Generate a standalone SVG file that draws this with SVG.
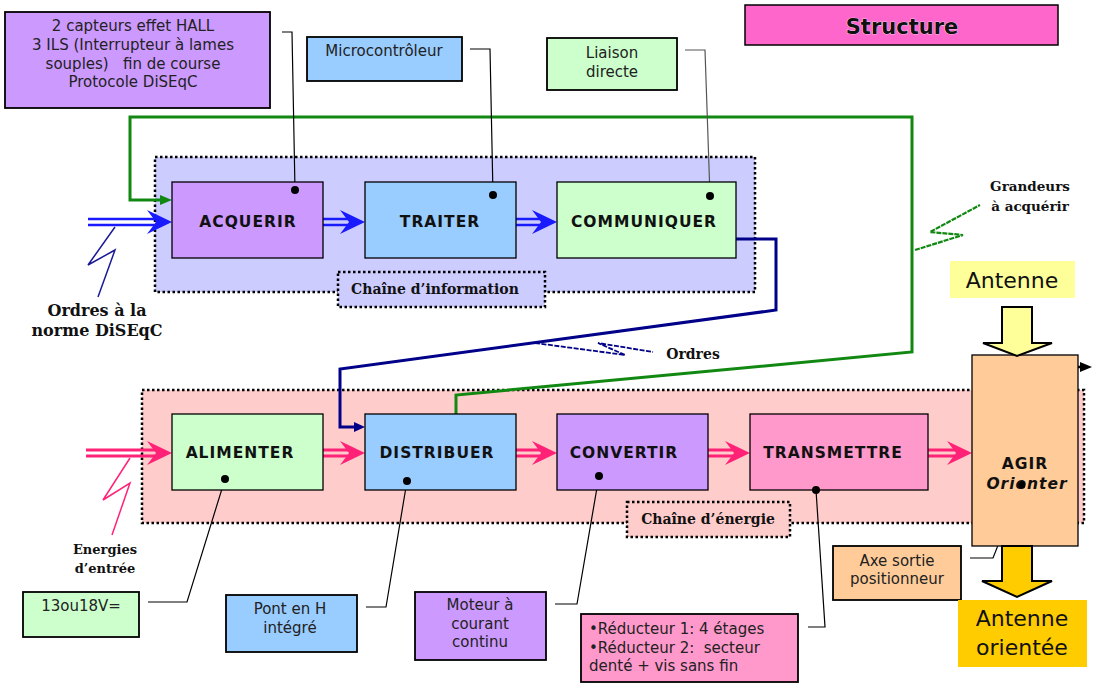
<svg xmlns="http://www.w3.org/2000/svg" width="1096" height="683" viewBox="0 0 1096 683">
<style>
.note{stroke:#000;stroke-width:1.8}
.nt{font-family:"DejaVu Sans","Liberation Sans",Arial,sans-serif;font-size:15px;fill:#222;text-anchor:middle;white-space:pre}
.ntl{font-family:"DejaVu Sans","Liberation Sans",Arial,sans-serif;font-size:15px;fill:#222;text-anchor:start;white-space:pre}
.fn{stroke:#000;stroke-width:1.3}
.ft{font-family:"Comic Sans MS","DejaVu Sans",sans-serif;font-weight:bold;font-size:15.5px;fill:#111;text-anchor:middle;letter-spacing:1px}
.chain{stroke:#000;stroke-width:2.5;stroke-dasharray:2.5 2.5}
.lbl{font-family:"DejaVu Serif","Liberation Serif",serif;font-weight:bold;fill:#111;text-anchor:middle}
.lead{fill:none;stroke:#000;stroke-width:1.2}
.bl{stroke:#1a1aff;stroke-width:2.5;fill:none}
.pk{stroke:#ff2277;stroke-width:3;fill:none}
.big{font-family:"DejaVu Sans","Liberation Sans",Arial,sans-serif;font-size:22px;fill:#111;text-anchor:middle}
</style>
<defs>
<path id="head" d="M0,0 L-25,-12 L-16,0 L-25,12 Z"/>
</defs>
<rect width="1096" height="683" fill="#fff"/>

<g id="chaine-information">
<rect x="155" y="157" width="600" height="135" fill="#ccccff" class="chain"/>
<rect x="338" y="272" width="207" height="35" fill="#ccccff" class="chain"/>
<text x="435" y="294" class="lbl" font-size="14">Chaîne d’information</text>
</g>
<g id="chaine-energie">
<rect x="142" y="390" width="942" height="133" fill="#ffcccc" class="chain"/>
<rect x="627" y="502" width="163" height="35" fill="#ffcccc" class="chain"/>
<text x="708" y="524" class="lbl" font-size="14">Chaîne d’énergie</text>
</g>

<g id="title">
<rect x="745" y="5" width="313" height="40" fill="#ff66cc" stroke="#000" stroke-width="1.5"/>
<text x="902" y="34" font-family="'Comic Sans MS','DejaVu Sans',sans-serif" font-weight="bold" font-size="21" text-anchor="middle" fill="#111" stroke="#fff" stroke-width="0.6" paint-order="stroke">Structure</text>
</g>

<g id="connectors">
<polyline points="456,414 456,395 912,352 912,117 130,117 130,200 160,200" fill="none" stroke="#118811" stroke-width="3"/>
<path d="M172,200 L160,195 L160,205 Z" fill="#118811"/>
<polyline points="915,250 963,235 930,232 980,205" fill="none" stroke="#118811" stroke-width="2.2" stroke-dasharray="5 1"/>
<polyline points="736,239 776,239 776,310 340,369 340,427 355,427" fill="none" stroke="#000088" stroke-width="3"/>
<path d="M365,427 L354,422 L354,432 Z" fill="#000088"/>
<polyline points="535,343 625,355 598,343 653,352" fill="none" stroke="#000088" stroke-width="1.8" stroke-dasharray="5 1.5"/>
<polyline points="115,227 88,265 115,250 98,297" fill="none" stroke="#1a1a99" stroke-width="1.5"/>
<g class="bl">
<path d="M88,219 H156 M88,225 H156"/>
<path d="M323,219 H350 M323,225 H350"/>
<path d="M516,219 H542 M516,225 H542"/>
</g>
<g fill="#1a1aff">
<use href="#head" x="172" y="222"/>
<use href="#head" x="365" y="222"/>
<use href="#head" x="557" y="222"/>
</g>
<polyline points="130,458 103,500 130,483 112,535" fill="none" stroke="#ff2277" stroke-width="1.5"/>
<g class="pk">
<path d="M86,450 H156 M86,456 H156"/>
<path d="M323,450 H350 M323,456 H350"/>
<path d="M516,450 H542 M516,456 H542"/>
<path d="M708,450 H735 M708,456 H735"/>
<path d="M928,450 H957 M928,456 H957"/>
</g>
<g fill="#ff2277">
<use href="#head" x="172" y="453"/>
<use href="#head" x="365" y="453"/>
<use href="#head" x="557" y="453"/>
<use href="#head" x="750" y="453"/>
<use href="#head" x="972" y="453"/>
</g>
<g class="lead">
<polyline points="282,32 292,32 295,190"/>
<polyline points="470,49 490,49 493,195"/>
<polyline points="685,50 705,50 710,196" stroke="#555"/>
<polyline points="225,479 187,602 148,602"/>
<polyline points="407,481 386,607 366,607"/>
<polyline points="599,476 577,604 555,604"/>
<polyline points="816,490 825,627 808,627"/>
<polyline points="1022,485 993,558 970,558"/>
</g>
<line x1="1065" y1="367" x2="1082" y2="367" stroke="#000" stroke-width="2.5"/>
<path d="M1092,367 L1080,362 L1080,372 Z" fill="#000"/>
</g>

<g id="acquerir"><rect x="172" y="182" width="151" height="76" fill="#cc99ff" class="fn"/><text x="248" y="227" class="ft">ACQUERIR</text></g>
<g id="traiter"><rect x="365" y="182" width="151" height="76" fill="#99ccff" class="fn"/><text x="440" y="227" class="ft">TRAITER</text></g>
<g id="communiquer"><rect x="557" y="182" width="179" height="76" fill="#ccffcc" class="fn"/><text x="644" y="227" class="ft">COMMUNIQUER</text></g>
<g id="alimenter"><rect x="172" y="414" width="151" height="76" fill="#ccffcc" class="fn"/><text x="240" y="458" class="ft">ALIMENTER</text></g>
<g id="distribuer"><rect x="365" y="414" width="151" height="76" fill="#99ccff" class="fn"/><text x="437" y="458" class="ft">DISTRIBUER</text></g>
<g id="convertir"><rect x="557" y="414" width="151" height="76" fill="#cc99ff" class="fn"/><text x="624" y="458" class="ft">CONVERTIR</text></g>
<g id="transmettre"><rect x="750" y="414" width="178" height="76" fill="#ff99cc" class="fn"/><text x="833" y="458" class="ft">TRANSMETTRE</text></g>
<g id="agir"><rect x="972" y="355" width="106" height="191" fill="#ffcc99" class="fn" stroke-width="1.5"/>
<text x="1025" y="469" class="ft">AGIR</text>
<text x="1027" y="489" class="ft" font-style="italic">Orienter</text></g>

<g id="leader-dots" fill="#000">
<circle cx="295" cy="190" r="4"/>
<circle cx="493" cy="195" r="4"/>
<circle cx="710" cy="196" r="4"/>
<circle cx="225" cy="479" r="4"/>
<circle cx="407" cy="481" r="4"/>
<circle cx="599" cy="476" r="4"/>
<circle cx="816" cy="490" r="4"/>
<circle cx="1022" cy="485" r="3.5"/>
</g>

<g id="note-capteurs"><rect x="5" y="12" width="265" height="96" fill="#cc99ff" class="note"/>
<text x="133" y="31" class="nt">2 capteurs effet HALL</text>
<text x="133" y="50" class="nt">3 ILS (Interrupteur à lames</text>
<text x="133" y="69" class="nt">souples)   fin de course</text>
<text x="133" y="87" class="nt">Protocole DiSEqC</text></g>
<g id="note-micro"><rect x="307" y="37" width="155" height="44" fill="#99ccff" class="note"/>
<text x="384" y="56" class="nt">Microcontrôleur</text></g>
<g id="note-liaison"><rect x="547" y="38" width="130" height="52" fill="#ccffcc" class="note"/>
<text x="612" y="58" class="nt">Liaison</text><text x="612" y="77" class="nt">directe</text></g>
<g id="note-alim"><rect x="23" y="592" width="116" height="45" fill="#ccffcc" class="note"/>
<text x="81" y="611" class="nt">13ou18V=</text></g>
<g id="note-pont"><rect x="226" y="595" width="131" height="57" fill="#99ccff" class="note"/>
<text x="290" y="614" class="nt">Pont en H</text><text x="290" y="633" class="nt">intégré</text></g>
<g id="note-moteur"><rect x="415" y="592" width="131" height="68" fill="#cc99ff" class="note"/>
<text x="480" y="610" class="nt">Moteur à</text><text x="480" y="629" class="nt">courant</text><text x="480" y="647" class="nt">continu</text></g>
<g id="note-reducteur"><rect x="581" y="614" width="217" height="68" fill="#ff99cc" class="note"/>
<text x="589" y="634" class="ntl">•Réducteur 1: 4 étages</text>
<text x="589" y="653" class="ntl">•Réducteur 2:  secteur</text>
<text x="589" y="671" class="ntl">denté + vis sans fin</text></g>
<g id="note-axe"><rect x="833" y="546" width="128" height="54" fill="#ffcc99" class="note"/>
<text x="897" y="566" class="nt">Axe sortie</text><text x="897" y="584" class="nt">positionneur</text></g>

<g id="antenne"><rect x="950" y="261" width="125" height="37" fill="#ffff99"/>
<text x="1012" y="288" class="big">Antenne</text></g>
<g id="arrow-in"><path d="M1002,307 H1032 V343 H1052 L1017,356 L983,343 H1002 Z" fill="#ffff99" stroke="#000" stroke-width="2"/></g>
<g id="arrow-out"><path d="M1002,546 H1032 V581 H1052 L1017,597 L982,581 H1002 Z" fill="#ffcc00" stroke="#000" stroke-width="2"/></g>
<g id="antenne-orientee"><rect x="958" y="600" width="129" height="67" fill="#ffcc00"/>
<text x="1022" y="626" class="big">Antenne</text><text x="1022" y="655" class="big">orientée</text></g>

<g id="labels">
<text x="97" y="316" class="lbl" font-size="16">Ordres à la</text>
<text x="97" y="336" class="lbl" font-size="16">norme DiSEqC</text>
<text x="693" y="359" class="lbl" font-size="14">Ordres</text>
<text x="1030" y="191" class="lbl" font-size="13.5">Grandeurs</text>
<text x="1030" y="211" class="lbl" font-size="13.5">à acquérir</text>
<text x="105" y="554" class="lbl" font-size="13">Energies</text>
<text x="105" y="573" class="lbl" font-size="13">d’entrée</text>
</g>
</svg>
